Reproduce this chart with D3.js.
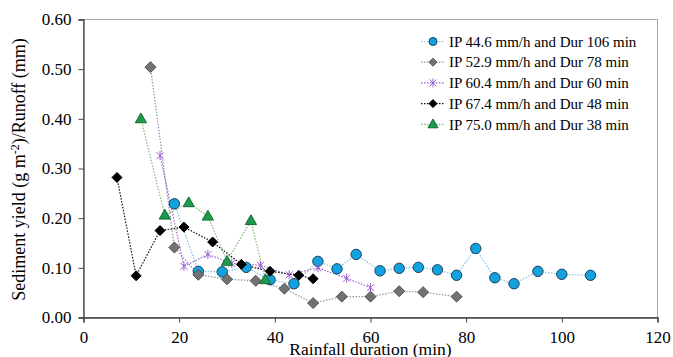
<!DOCTYPE html>
<html>
<head>
<meta charset="utf-8">
<script src="https://cdn.jsdelivr.net/npm/d3@7"></script>
<style>
  body { margin: 0; background: #fff; }
  svg { display: block; }
</style>
</head>
<body>
<svg id="chart"></svg>
<script>
// data
const xTicks = [0, 20, 40, 60, 80, 100, 120];
const yTicks = [0, 0.1, 0.2, 0.3, 0.4, 0.5, 0.6];

const names = [
  'IP 44.6 mm/h and Dur 106 min',
  'IP 52.9 mm/h and Dur 78 min',
  'IP 60.4 mm/h and Dur 60 min',
  'IP 67.4 mm/h and Dur 48 min',
  'IP 75.0 mm/h and Dur 38 min'
];

const ip446X = [19, 24, 29, 34, 39, 44, 49, 53, 57, 62, 66, 70, 74, 78, 82, 86, 90, 95, 100, 106];
const ip446Y = [0.229, 0.093, 0.092, 0.101, 0.076, 0.068, 0.113, 0.098, 0.127, 0.094, 0.099, 0.101, 0.096, 0.085, 0.139, 0.080, 0.068, 0.093, 0.087, 0.085];

const ip529X = [14, 19, 24, 30, 36, 42, 48, 54, 60, 66, 71, 78];
const ip529Y = [0.504, 0.141, 0.086, 0.077, 0.074, 0.058, 0.029, 0.042, 0.042, 0.053, 0.051, 0.042];

const ip604X = [16, 21, 26, 31, 37, 43, 49, 55, 60];
const ip604Y = [0.326, 0.103, 0.127, 0.109, 0.105, 0.086, 0.100, 0.079, 0.060];

const ip674X = [7, 11, 16, 21, 27, 33, 39, 45, 48];
const ip674Y = [0.282, 0.084, 0.175, 0.182, 0.152, 0.107, 0.093, 0.085, 0.078];

const ip750X = [12, 17, 22, 26, 30, 35, 38];
const ip750Y = [0.400, 0.206, 0.231, 0.204, 0.113, 0.195, 0.076];

const W = 673, H = 357;
const M = { left: 83.5, right: 15.5, top: 19.5, bottom: 39.5 };
const SERIF = "'Liberation Serif'";

const svg = d3.select('#chart').attr('width', W).attr('height', H);

const x = d3.scaleLinear().domain([0, 120]).range([M.left, W - M.right]);
const y = d3.scaleLinear().domain([0, 0.6]).range([H - M.bottom, M.top]);

// marker shapes
const star = (s) => `M${-s},${-s}L${s},${s}M${-s},${s}L${s},${-s}M0,${-s * 1.3}L0,${s * 1.3}`;
const diamond = (s) => `M0,${-s}L${s},0L0,${s}L${-s},0Z`;
const tri = (s) => `M0,${-s * 1.05}L${s},${s * 0.7}L${-s},${s * 0.7}Z`;
const circ = (s) => `M${s},0A${s},${s} 0 1,1 ${-s},0A${s},${s} 0 1,1 ${s},0Z`;

const series = [
  { xs: ip446X, ys: ip446Y, line: '#7fbfe8', fill: '#12a2e0', stroke: '#1d3f5c', shape: circ, size: 5.2, lsize: 4 },
  { xs: ip529X, ys: ip529Y, line: '#8a96a6', fill: '#727272', stroke: '#505050', shape: diamond, size: 5.5, lsize: 4 },
  { xs: ip604X, ys: ip604Y, line: '#9a5fd0', fill: 'none', stroke: '#9a5fd0', shape: star, size: 3.5, lsize: 3.5 },
  { xs: ip674X, ys: ip674Y, line: '#111111', fill: '#000000', stroke: '#000000', shape: diamond, size: 5, lsize: 4 },
  { xs: ip750X, ys: ip750Y, line: '#86b878', fill: '#1d9a4c', stroke: '#136a33', shape: tri, size: 5.6, lsize: 5 }
];

// plot frame
svg.append('rect')
  .attr('x', x(0)).attr('y', y(0.6))
  .attr('width', x(120) - x(0)).attr('height', y(0) - y(0.6))
  .attr('fill', 'none').attr('stroke', '#a6a6a6').attr('stroke-width', 1);

// axes
const fs = 17;
const yAxis = svg.append('g').attr('transform', `translate(${x(0)},0)`)
  .call(d3.axisLeft(y).tickValues(yTicks).tickSize(5).tickPadding(7).tickFormat(d3.format('.2f')));
const xAxis = svg.append('g').attr('transform', `translate(0,${y(0)})`)
  .call(d3.axisBottom(x).tickValues(xTicks).tickSize(5).tickPadding(8).tickFormat(d3.format('d')));
[xAxis, yAxis].forEach(g => {
  g.select('.domain').attr('stroke', '#404040').attr('stroke-width', 1.3);
  g.selectAll('.tick line').attr('stroke', '#404040');
  g.selectAll('text').attr('fill', '#000')
    .style('font-family', SERIF).style('font-size', fs + 'px');
});

// axis titles
svg.append('text')
  .attr('x', (x(0) + x(120)) / 2).attr('y', 355)
  .attr('text-anchor', 'middle')
  .style('font-family', SERIF).style('font-size', '17.5px')
  .text('Rainfall duration (min)');

const yt = svg.append('text')
  .attr('transform', `translate(25,${(y(0) + y(0.6)) / 2 + 1}) rotate(-90)`)
  .attr('text-anchor', 'middle')
  .style('font-family', SERIF).style('font-size', '18px');
yt.append('tspan').text('Sediment yield (g m');
yt.append('tspan').attr('dy', -6).style('font-size', '12px').text('-2');
yt.append('tspan').attr('dy', 6).text(')/Runoff (mm)');

// lines and markers
const line = d3.line().x(d => x(d[0])).y(d => y(d[1]));
series.forEach(s => {
  const pts = s.xs.map((v, i) => [v, s.ys[i]]);
  svg.append('path').datum(pts)
    .attr('d', line).attr('fill', 'none')
    .attr('stroke', s.line).attr('stroke-width', 1.2).attr('stroke-dasharray', '1.5,1.5');
});
series.forEach(s => {
  const pts = s.xs.map((v, i) => [v, s.ys[i]]);
  svg.append('g').selectAll('path').data(pts).enter().append('path')
    .attr('transform', d => `translate(${x(d[0])},${y(d[1])})`)
    .attr('d', s.shape(s.size))
    .attr('fill', s.fill).attr('stroke', s.stroke).attr('stroke-width', 1);
});

// legend
const lg = svg.append('g');
series.forEach((s, i) => {
  const cy = 41.5 + i * 20.7;
  lg.append('line').attr('x1', 421).attr('x2', 445).attr('y1', cy).attr('y2', cy)
    .attr('stroke', s.line).attr('stroke-width', 1.2).attr('stroke-dasharray', '1.5,1.5');
  lg.append('path').attr('transform', `translate(433,${cy})`)
    .attr('d', s.shape(s.lsize))
    .attr('fill', s.fill).attr('stroke', s.stroke).attr('stroke-width', 1);
  lg.append('text').attr('x', 449).attr('y', cy).attr('dy', '0.35em')
    .style('font-family', SERIF).style('font-size', '15px')
    .text(names[i]);
});
</script>
</body>
</html>
